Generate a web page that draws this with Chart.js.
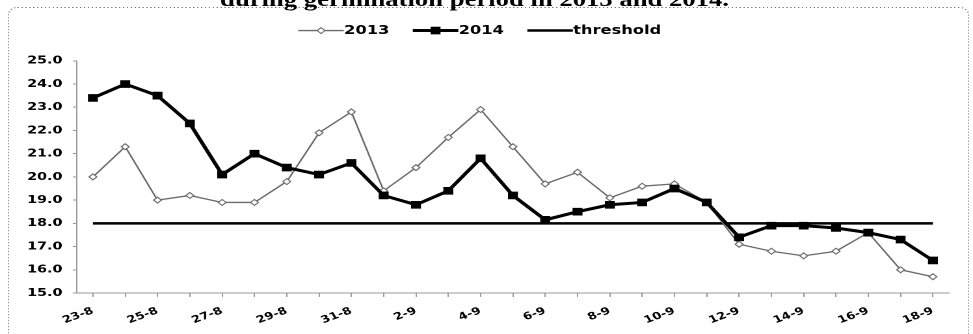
<!DOCTYPE html>
<html>
<head>
<meta charset="utf-8">
<script src="https://cdn.jsdelivr.net/npm/chart.js@4/dist/chart.umd.min.js"></script>
<style>
  html, body { margin: 0; padding: 0; background: #fff; width: 973px; height: 334px; overflow: hidden; }
  #wrap { position: absolute; left: 0; top: -16px; width: 748px; height: 350px; transform: scaleX(1.3008); transform-origin: 0 0; }
</style>
</head>
<body>
<div id="wrap"><canvas id="c" width="748" height="350"></canvas></div>
<script>
// ---- data ----
const titleText = 'during germination period in 2013 and 2014.';
const dates = ['23-8','24-8','25-8','26-8','27-8','28-8','29-8','30-8','31-8',
  '1-9','2-9','3-9','4-9','5-9','6-9','7-9','8-9','9-9','10-9','11-9','12-9','13-9','14-9','15-9','16-9','17-9','18-9'];
const series2013 = [20.0, 21.3, 19.0, 19.2, 18.9, 18.9, 19.8, 21.9, 22.8,
  19.4, 20.4, 21.7, 22.9, 21.3, 19.7, 20.2, 19.1, 19.6, 19.7, 18.9, 17.1, 16.8, 16.6, 16.8, 17.6, 16.0, 15.7];
const series2014 = [23.4, 24.0, 23.5, 22.3, 20.1, 21.0, 20.4, 20.1, 20.6,
  19.2, 18.8, 19.4, 20.8, 19.2, 18.15, 18.5, 18.8, 18.9, 19.5, 18.9, 17.4, 17.9, 17.9, 17.8, 17.6, 17.3, 16.4];
const threshold = [18, 18, 18, 18, 18, 18, 18, 18, 18,
  18, 18, 18, 18, 18, 18, 18, 18, 18, 18, 18, 18, 18, 18, 18, 18, 18, 18];
const seriesNames = ['2013', '2014', 'threshold'];
const yMin = 15, yMax = 25, yStep = 1;

// ---- plugins ----
const framePlugin = {
  id: 'frame',
  beforeDraw(chart) {
    const ctx = chart.ctx;
    ctx.save();
    ctx.strokeStyle = '#777';
    ctx.lineWidth = 1;
    ctx.setLineDash([1, 2]);
    ctx.beginPath();
    ctx.roundRect(6.5, 23.5, 738, 360, 7);
    ctx.stroke();
    ctx.restore();
  }
};

const legendPlugin = {
  id: 'legendLines',
  beforeInit(chart) {
    const l = chart.legend;
    if (l) {
      const f = l.fit.bind(l);
      l.fit = function () { f(); this.height += 14; };
    }
  },
  afterDraw(chart) {
    const l = chart.legend;
    if (!l || !l.legendHitBoxes) return;
    const ctx = chart.ctx;
    l.legendHitBoxes.forEach((hb, i) => {
      const item = l.legendItems[i];
      const ds = chart.data.datasets[item.datasetIndex];
      const y = hb.top + hb.height / 2;
      const x0 = hb.left + 8, x1 = x0 + 35;
      ctx.save();
      ctx.strokeStyle = ds.borderColor;
      ctx.lineWidth = ds.borderWidth;
      ctx.beginPath();
      ctx.moveTo(x0, y); ctx.lineTo(x1, y);
      ctx.stroke();
      const r = ds.pointRadius || 0;
      if (r > 0) {
        const cx = (x0 + x1) / 2;
        ctx.fillStyle = ds.pointBackgroundColor;
        ctx.strokeStyle = ds.pointBorderColor;
        ctx.lineWidth = ds.pointBorderWidth;
        ctx.beginPath();
        if (ds.pointStyle === 'rect') {
          const s = r * Math.SQRT1_2;
          ctx.rect(cx - s, y - s, 2 * s, 2 * s);
        } else {
          ctx.moveTo(cx, y - r); ctx.lineTo(cx + r, y); ctx.lineTo(cx, y + r); ctx.lineTo(cx - r, y); ctx.closePath();
        }
        ctx.fill();
        if (ds.pointBorderWidth > 0) ctx.stroke();
      }
      ctx.restore();
    });
  }
};

// ---- chart ----
new Chart(document.getElementById('c'), {
  type: 'line',
  data: {
    labels: dates,
    datasets: [
      {
        label: seriesNames[0], data: series2013, order: 1,
        borderColor: '#6a6a6a', borderWidth: 1.3, tension: 0,
        pointStyle: 'rectRot', pointRadius: 3, pointBorderWidth: 1,
        pointBackgroundColor: '#ffffff', pointBorderColor: '#6a6a6a'
      },
      {
        label: seriesNames[1], data: series2014, order: 0,
        borderColor: '#000000', borderWidth: 3, tension: 0,
        pointStyle: 'rect', pointRadius: 5.4, pointBorderWidth: 0,
        pointBackgroundColor: '#000000', pointBorderColor: '#000000'
      },
      {
        label: seriesNames[2], data: threshold, order: 2,
        borderColor: '#000000', borderWidth: 2.5, tension: 0,
        pointRadius: 0, pointHoverRadius: 0
      }
    ]
  },
  options: {
    responsive: false,
    animation: false,
    devicePixelRatio: 2,
    layout: { padding: { left: 0, right: 18.4, top: 0, bottom: 0 } },
    plugins: {
      title: {
        display: true, text: titleText, color: '#000',
        font: { family: '"Liberation Serif", serif', size: 20.5, weight: 'bold' },
        padding: { top: 4.5, bottom: 1.2 }
      },
      legend: {
        display: true, position: 'top',
        labels: {
          color: '#000', boxWidth: 37, boxHeight: 12, padding: 10,
          font: { family: '"DejaVu Sans", sans-serif', size: 12.5, weight: 'bold' },
          sort: (a, b) => a.datasetIndex - b.datasetIndex,
          generateLabels(chart) {
            return Chart.defaults.plugins.legend.labels.generateLabels(chart).map(it => Object.assign(it, {
              fillStyle: 'rgba(0,0,0,0)', strokeStyle: 'rgba(0,0,0,0)', lineWidth: 0, fontColor: '#000'
            }));
          }
        }
      },
      tooltip: { enabled: false }
    },
    scales: {
      x: {
        offset: true,
        afterFit(s) { s.height = 41; },
        grid: { display: true, drawOnChartArea: false, tickLength: 4, color: '#999' },
        border: { display: true, color: '#999', width: 1, dash: [1, 1] },
        ticks: {
          autoSkip: false, maxRotation: 25, minRotation: 25, padding: 8, color: '#000',
          font: { family: '"DejaVu Sans", sans-serif', size: 10, weight: 'bold' },
          callback(v, i) { return i % 2 === 0 ? this.getLabelForValue(v) : ''; }
        }
      },
      y: {
        min: yMin, max: yMax,
        afterFit(s) { s.width = 59; },
        grid: { display: true, drawOnChartArea: false, tickLength: 3, color: '#999' },
        border: { display: true, color: '#999', width: 1, dash: [1, 1] },
        ticks: {
          stepSize: yStep, padding: 8, color: '#000',
          font: { family: '"DejaVu Sans", sans-serif', size: 11, weight: 'bold' },
          callback(v) { return Number(v).toFixed(1); }
        }
      }
    }
  },
  plugins: [framePlugin, legendPlugin]
});
</script>
</body>
</html>
